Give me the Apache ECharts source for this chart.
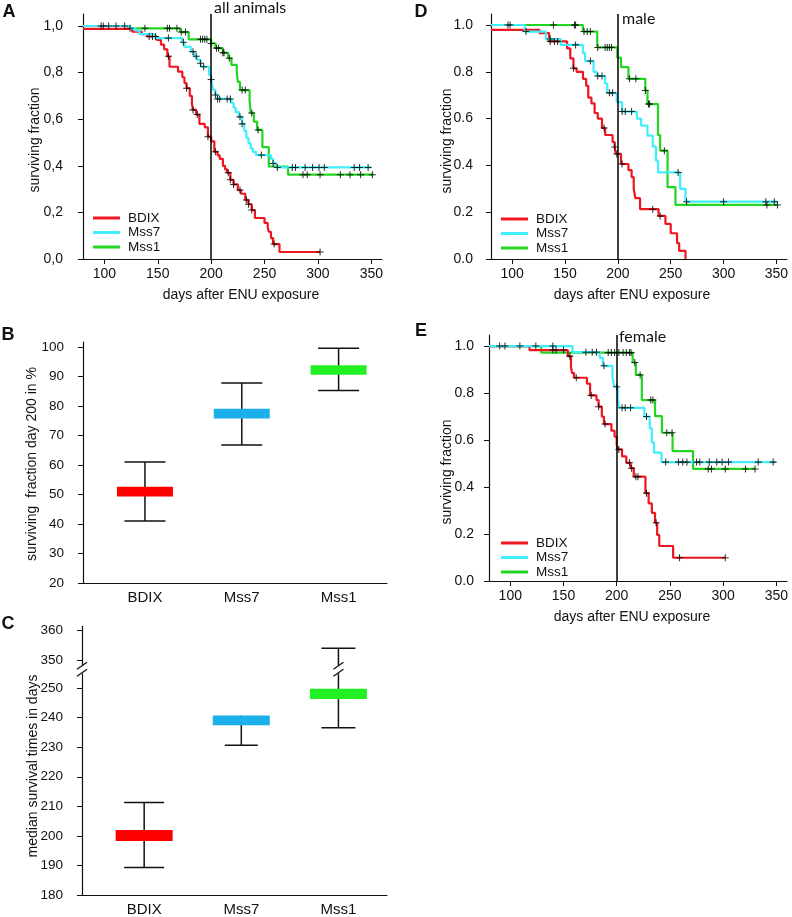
<!DOCTYPE html>
<html><head><meta charset="utf-8">
<script src="https://cdn.jsdelivr.net/npm/echarts@6/dist/echarts.min.js"></script>
<style>html,body{margin:0;padding:0;background:#fff}#c{width:792px;height:917px}</style>
</head><body><div id="c"></div>
<script>
// ---------- categories & ticks ----------
const GROUPS = ['BDIX', 'Mss7', 'Mss1'];
const KM_X_TICKS = [100, 150, 200, 250, 300, 350];
const KM_Y_TICKS = [0, 0.2, 0.4, 0.6, 0.8, 1.0];
const B_Y_TICKS = [20, 30, 40, 50, 60, 70, 80, 90, 100];
const C_Y_TICKS = [180, 190, 200, 210, 220, 230, 240, 250, 350, 360];
const C_BREAK_SHIFT = 90.5;   // values above the axis break are shifted down by this

// ---------- Panel A (all animals): [day, surviving fraction] steps, censor days ----------
const A_BDIX = [[80,0.988],[126,0.976],[135,0.965],[140,0.955],[149,0.94],[153,0.92],[156,0.90],[159,0.87],[161,0.825],[169,0.804],[173,0.78],[175,0.755],[177,0.733],[180,0.70],[182,0.665],[183,0.64],[186,0.62],[189,0.58],[194,0.565],[197,0.525],[200,0.505],[203,0.46],[206,0.445],[208,0.43],[211,0.40],[213,0.385],[215,0.37],[218,0.34],[221,0.32],[225,0.296],[228,0.28],[232,0.253],[235,0.235],[238,0.21],[241,0.176],[250,0.155],[253,0.135],[254,0.117],[256,0.09],[258,0.064],[264,0.03],[302,0.03]];
const A_BDIX_CENS = [142,145,148,160,177,183,187,197,204,216,218,221,227,233,235,238,259,302];
const A_MSS7 = [[80,1.0],[124,0.99],[129,0.98],[133,0.965],[147,0.948],[173,0.93],[175,0.91],[181,0.89],[184,0.87],[187,0.855],[190,0.84],[191,0.825],[198,0.79],[200,0.77],[201,0.745],[202,0.725],[204,0.704],[206,0.687],[219,0.67],[221,0.65],[223,0.63],[226,0.61],[229,0.58],[231,0.55],[233,0.52],[235,0.497],[237,0.475],[239,0.46],[242,0.446],[256,0.43],[258,0.41],[261,0.393],[350,0.393]];
const A_MSS7_CENS = [97,99,104,111,119,160,174,183,186,190,193,200,204,206,208,215,218,227,229,247,258,262,276,279,288,295,301,306,334,339,347];
const A_MSS1 = [[80,1.0],[124,0.99],[171,0.974],[179,0.943],[200,0.925],[204,0.905],[211,0.885],[216,0.862],[219,0.833],[224,0.80],[225,0.76],[227,0.725],[236,0.68],[237,0.627],[240,0.59],[243,0.554],[248,0.48],[254,0.397],[272,0.362],[352,0.362]];
const A_MSS1_CENS = [124,138,159,161,168,172,176,190,192,194,196,200,205,207,211,212,217,229,232,238,244,286,290,302,321,330,340,351];

// ---------- Panel D (male) ----------
const D_BDIX = [[80,0.979],[126,0.965],[135,0.93],[152,0.90],[155,0.857],[158,0.815],[161,0.80],[167,0.77],[170,0.74],[172,0.69],[175,0.665],[178,0.624],[181,0.60],[185,0.56],[188,0.53],[195,0.50],[197,0.479],[198,0.449],[203,0.406],[210,0.38],[213,0.35],[215,0.30],[216.5,0.26],[221,0.213],[238.5,0.184],[245,0.15],[250,0.11],[256,0.068],[258,0.035],[264,0]];
const D_BDIX_CENS = [136,140,143,158,187,197,199,204,233,240];
const D_MSS7 = [[80,1.0],[112,0.972],[132,0.94],[146,0.915],[167,0.88],[169,0.846],[177,0.80],[180,0.782],[188,0.75],[190,0.71],[199,0.67],[204,0.63],[218,0.60],[222,0.57],[228,0.527],[233,0.48],[236,0.42],[238,0.37],[259,0.30],[264,0.245],[351,0.245]];
const D_MSS7_CENS = [96,98,113,136,160,174,181,185,192,195,204,207,213,257,265,300,340,348];
const D_MSS1 = [[80,1.0],[167,0.972],[180.5,0.904],[199.5,0.86],[203,0.82],[210,0.77],[226,0.72],[228,0.662],[238,0.53],[240,0.463],[247,0.307],[254.5,0.231],[351,0.231]];
const D_MSS1_CENS = [139,159,160,168,171,174,181,188,190,192,194,211,217,226,229,230,244,341,351];

// ---------- Panel E (female) ----------
const E_BDIX = [[80,1.0],[118,0.983],[154,0.957],[157,0.912],[158,0.885],[160,0.865],[172,0.84],[175,0.79],[181,0.77],[183,0.742],[186,0.70],[188,0.668],[195,0.64],[198,0.614],[200,0.58],[201,0.56],[205,0.53],[209,0.503],[213,0.48],[216,0.444],[227,0.374],[230,0.33],[233,0.29],[236,0.248],[238,0.196],[240,0.149],[253,0.099],[302,0.099]];
const E_BDIX_CENS = [140,143,150,156,162,176,183,189,202,212,214,218,220,228,237,259,302];
const E_MSS7 = [[80,1.0],[158.5,0.974],[184,0.95],[187,0.916],[196,0.87],[197.5,0.827],[201,0.78],[202,0.737],[226,0.70],[231,0.65],[233,0.59],[235,0.546],[242,0.506],[349,0.506]];
const E_MSS7_CENS = [90,95,109,124,140,171,177,181,188,200,205,208,213,228,246,258,262,266,275,278,287,294,299,305,333,347];
const E_MSS1 = [[80,1.0],[129,0.972],[215,0.93],[218,0.877],[223.6,0.77],[236,0.702],[242.5,0.631],[252.5,0.553],[271.7,0.477],[330,0.477]];
const E_MSS1_CENS = [192,195,198,202,206,209,212,213.5,217,222,232,234,247,252,286,289,302,321,330];

// ---------- Panel B: surviving fraction at day 200 (%) ----------
const B_LOW  = [41.0, 66.8, 85.3];
const B_Q1   = [49.3, 75.8, 90.6];
const B_Q3   = [52.6, 79.1, 93.8];
const B_HIGH = [61.0, 87.8, 99.6];

// ---------- Panel C: median survival times (days) ----------
const C_LOW  = [189.3, 230.7, 236.6];
const C_Q1   = [198.3, 237.4, 246.3];
const C_Q3   = [202.0, 240.7, 249.8];
const C_HIGH = [211.3, 240.7, 354.0];

// ---------- styles ----------
const FONT = '"Liberation Sans", Arial, sans-serif';
const KM_COLORS = { BDIX: '#ee1620', Mss7: '#40eefc', Mss1: '#22d622' };
const BOX_COLORS = ['#ff0000', '#1cb0ea', '#22f022'];
const PLUS = 'path://M-0.6,-4H0.6V-0.6H4V0.6H0.6V4H-0.6V0.6H-4V-0.6H-0.6Z';

function survAt(steps, t) {
  let v = steps[0][1];
  for (const s of steps) { if (s[0] <= t) v = s[1]; else break; }
  return v;
}
const toC = v => (v > 300 ? v - C_BREAK_SHIFT : v);

const chart = echarts.init(document.getElementById('c'), null, { renderer: 'canvas' });

const grids = [
  { left: 83, top: 14, width: 299, height: 245 },   // A
  { left: 491, top: 14, width: 296, height: 245 },  // D
  { left: 489, top: 335, width: 298, height: 246 }, // E
  { left: 83, top: 342, width: 304, height: 241 },  // B
  { left: 82, top: 626, width: 305, height: 269 }   // C
];

const axisLineStyle = { show: true, onZero: false, lineStyle: { color: '#111', width: 1.2 } };
function kmX(g) {
  return {
    type: 'value', gridIndex: g, min: 80, max: 360,
    axisLine: axisLineStyle,
    axisTick: { show: true, customValues: KM_X_TICKS, length: 5, lineStyle: { color: '#111' } },
    axisLabel: { customValues: KM_X_TICKS, fontSize: 14, fontFamily: FONT, color: '#111', margin: 8 },
    splitLine: { show: false }
  };
}
function kmY(g, ymax, comma, margin) {
  return {
    type: 'value', gridIndex: g, min: 0, max: ymax,
    axisLine: axisLineStyle,
    axisTick: { show: true, customValues: KM_Y_TICKS, length: 5, lineStyle: { color: '#111' } },
    axisLabel: {
      customValues: KM_Y_TICKS, fontSize: 14, fontFamily: FONT, color: '#111', margin: margin,
      formatter: v => { const s = v.toFixed(1); return comma ? s.replace('.', ',') : s; }
    },
    splitLine: { show: false }
  };
}

const xAxis = [kmX(0), kmX(1), kmX(2),
  {
    type: 'value', gridIndex: 3, min: 0.36, max: 3.5,
    axisLine: axisLineStyle, axisTick: { show: false },
    axisLabel: { customValues: [1, 2, 3], formatter: v => GROUPS[Math.round(v) - 1], fontSize: 15, fontFamily: FONT, color: '#111', margin: 7 },
    splitLine: { show: false }
  },
  {
    type: 'value', gridIndex: 4, min: 0.36, max: 3.5,
    axisLine: axisLineStyle, axisTick: { show: false },
    axisLabel: { customValues: [1, 2, 3], formatter: v => GROUPS[Math.round(v) - 1], fontSize: 15, fontFamily: FONT, color: '#111', margin: 7 },
    splitLine: { show: false }
  }
];
const yAxis = [kmY(0, 1.0515, true, 20), kmY(1, 1.047, false, 18), kmY(2, 1.047, false, 15),
  {
    type: 'value', gridIndex: 3, min: 20, max: 101.7,
    axisLine: axisLineStyle,
    axisTick: { show: true, customValues: B_Y_TICKS, length: 5, lineStyle: { color: '#111' } },
    axisLabel: { customValues: B_Y_TICKS, fontSize: 13.5, fontFamily: FONT, color: '#111', margin: 19 },
    splitLine: { show: false }
  },
  {
    type: 'value', gridIndex: 4, min: 180, max: 271,
    axisLine: axisLineStyle,
    axisTick: { show: true, customValues: C_Y_TICKS.map(toC), length: 5, lineStyle: { color: '#111' } },
    axisLabel: {
      customValues: C_Y_TICKS.map(toC), fontSize: 13.5, fontFamily: FONT, color: '#111', margin: 19,
      formatter: v => String(Math.round(v > 255 ? v + C_BREAK_SHIFT : v))
    },
    splitLine: { show: false }
  }
];

const series = [];
const KM_PANELS = [
  { g: 0, curves: [['Mss1', A_MSS1, A_MSS1_CENS], ['BDIX', A_BDIX, A_BDIX_CENS], ['Mss7', A_MSS7, A_MSS7_CENS]] },
  { g: 1, curves: [['Mss1', D_MSS1, D_MSS1_CENS], ['BDIX', D_BDIX, D_BDIX_CENS], ['Mss7', D_MSS7, D_MSS7_CENS]] },
  { g: 2, curves: [['Mss1', E_MSS1, E_MSS1_CENS], ['BDIX', E_BDIX, E_BDIX_CENS], ['Mss7', E_MSS7, E_MSS7_CENS]] }
];
KM_PANELS.forEach(p => {
  p.curves.forEach(([name, steps, cens], k) => {
    const col = KM_COLORS[name];
    const s = {
      type: 'line', name: name, xAxisIndex: p.g, yAxisIndex: p.g, data: steps, step: 'end',
      symbol: 'none', showSymbol: false, lineStyle: { color: col, width: 2.2 }, itemStyle: { color: col },
      z: 2 + k, silent: true
    };
    if (name === 'BDIX') {
      s.markLine = {
        silent: true, symbol: ['none', 'none'], label: { show: false },
        lineStyle: { color: '#000', width: 1.5, type: 'solid' }, data: [{ xAxis: 200 }], z: 10
      };
    }
    series.push(s);
  });
  p.curves.forEach(([name, steps, cens]) => {
    series.push({
      type: 'scatter', name: name + ' censored', xAxisIndex: p.g, yAxisIndex: p.g,
      data: cens.map(t => [t, survAt(steps, t)]), symbol: PLUS, symbolSize: 7,
      itemStyle: { color: '#000' }, z: 8, silent: true
    });
  });
});

function boxItem(capWidths, boxW) {
  return function (params, api) {
    const i = params.dataIndex;
    const x = api.value(0);
    const lo = api.coord([x, api.value(1)]);
    const q1 = api.coord([x, api.value(2)]);
    const q3 = api.coord([x, api.value(3)]);
    const hi = api.coord([x, api.value(4)]);
    const cx = lo[0], cw = capWidths[i] / 2;
    const st = { stroke: '#111', lineWidth: 1.5 };
    const ch = [
      { type: 'line', shape: { x1: cx, y1: lo[1], x2: cx, y2: hi[1] }, style: st },
      { type: 'line', shape: { x1: cx - cw, y1: lo[1], x2: cx + cw, y2: lo[1] }, style: st }
    ];
    if (api.value(4) > api.value(3)) ch.push({ type: 'line', shape: { x1: cx - cw, y1: hi[1], x2: cx + cw, y2: hi[1] }, style: st });
    ch.push({ type: 'rect', shape: { x: cx - boxW / 2, y: q3[1], width: boxW, height: q1[1] - q3[1] }, style: { fill: BOX_COLORS[i] } });
    return { type: 'group', children: ch };
  };
}
series.push({
  type: 'custom', name: 'B', xAxisIndex: 3, yAxisIndex: 3, silent: true,
  renderItem: boxItem([41, 41, 41], 56),
  encode: { x: 0, y: [1, 2, 3, 4] },
  data: GROUPS.map((g, i) => [i + 1, B_LOW[i], B_Q1[i], B_Q3[i], B_HIGH[i]])
});
series.push({
  type: 'custom', name: 'C', xAxisIndex: 4, yAxisIndex: 4, silent: true,
  renderItem: boxItem([40, 33, 34], 57),
  encode: { x: 0, y: [1, 2, 3, 4] },
  data: GROUPS.map((g, i) => [i + 1, toC(C_LOW[i]), toC(C_Q1[i]), toC(C_Q3[i]), toC(C_HIGH[i])])
});
// axis-break marks "//" on the C y-axis and on the Mss1 whisker
series.push({
  type: 'custom', name: 'breaks', xAxisIndex: 4, yAxisIndex: 4, silent: true, z: 20,
  renderItem: function (params, api) {
    const p = api.coord([api.value(0), api.value(1)]);
    const cx = p[0], cy = p[1];
    const st = { stroke: '#111', lineWidth: 1.3 };
    return {
      type: 'group', children: [
        { type: 'rect', shape: { x: cx - 3, y: cy - 5, width: 6, height: 8 }, style: { fill: '#fff' } },
        { type: 'line', shape: { x1: cx - 5, y1: cy - 1, x2: cx + 5, y2: cy - 8 }, style: st },
        { type: 'line', shape: { x1: cx - 5, y1: cy + 6, x2: cx + 5, y2: cy - 1 }, style: st }
      ]
    };
  },
  encode: { x: 0, y: 1 },
  data: [[0.36, 256], [3, 256]]
});

function legendAt(left, top) {
  return {
    data: GROUPS, orient: 'vertical', left: left, top: top, icon: 'rect',
    itemWidth: 27, itemHeight: 3, itemGap: 0.5, padding: 0, selectedMode: false,
    textStyle: { fontSize: 13.5, fontFamily: FONT, color: '#111', lineHeight: 12, padding: [0, 0, 0, 3] }
  };
}

function txt(x, y, text, font, rot) {
  return {
    type: 'text', x: x, y: y, rotation: rot || 0, silent: true,
    style: { text: text, font: font, fill: '#111', align: 'center', verticalAlign: 'middle' }
  };
}
const F14 = '14px ' + FONT;
const FB = 'bold 18px ' + FONT;
const FL = '16px Lato, "Open Sans", sans-serif';
const R = Math.PI / 2;
const graphic = [
  txt(9, 12, 'A', FB), txt(421, 12, 'D', FB), txt(421, 331, 'E', FB),
  txt(8, 335, 'B', FB), txt(8, 624, 'C', FB),
  { type: 'text', x: 214, y: 8, silent: true, style: { text: 'all animals', font: FL, fill: '#111', align: 'left', verticalAlign: 'middle' } },
  { type: 'text', x: 622, y: 19, silent: true, style: { text: 'male', font: FL, fill: '#111', align: 'left', verticalAlign: 'middle' } },
  { type: 'text', x: 619, y: 337, silent: true, style: { text: 'female', font: FL, fill: '#111', align: 'left', verticalAlign: 'middle' } },
  txt(35, 140, 'surviving fraction', F14, R),
  txt(447, 141, 'surviving fraction', F14, R),
  txt(447, 472, 'surviving fraction', F14, R),
  txt(32, 464, 'surviving  fraction day 200 in %', F14, R),
  txt(33, 766, 'median survival times in days', F14, R),
  txt(241, 295, 'days after ENU exposure', F14),
  txt(632, 295, 'days after ENU exposure', F14),
  txt(632, 617, 'days after ENU exposure', F14)
];

chart.setOption({
  animation: false,
  backgroundColor: '#fff',
  grid: grids,
  xAxis: xAxis,
  yAxis: yAxis,
  legend: [legendAt(93, 211), legendAt(501, 212), legendAt(501, 536)],
  graphic: graphic,
  series: series
});
</script>
</body></html>
